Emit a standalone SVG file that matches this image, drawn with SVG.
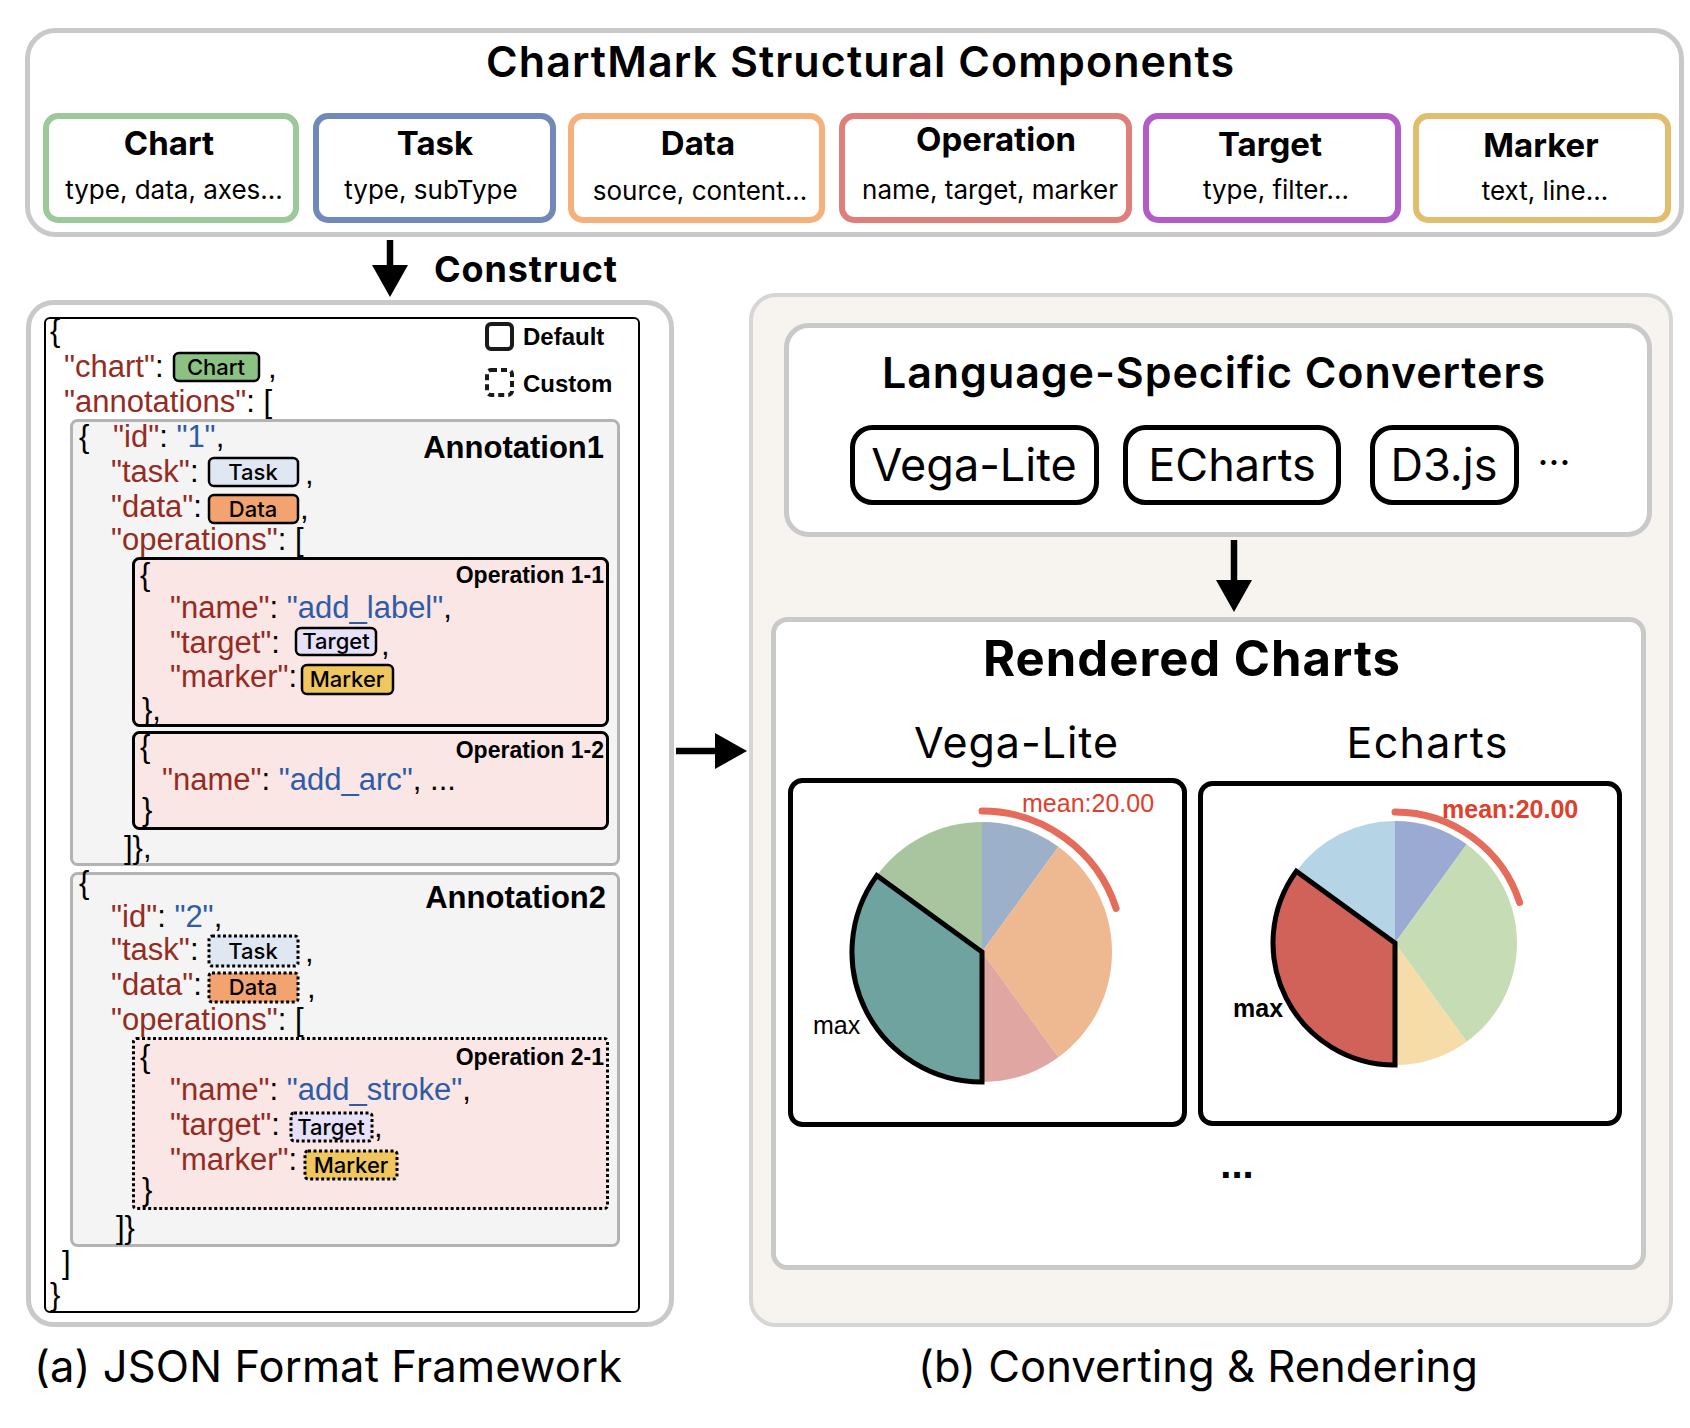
<svg xmlns="http://www.w3.org/2000/svg" width="1690" height="1428" viewBox="0 0 1690 1428">
<defs>
<style>
.cont{fill:#fff;stroke:#c9c9c9;stroke-width:5}
.comp{fill:#fff;stroke-width:6}
.ct{font-family:Inter,"Liberation Sans",sans-serif;font-weight:700;font-size:33px;text-anchor:middle;fill:#000}
.cs{font-family:Inter,"Liberation Sans",sans-serif;font-weight:400;font-size:26px;text-anchor:middle;fill:#000}
.j{font-family:"Liberation Sans",Arial,sans-serif;font-size:31px;fill:#000}
.k{fill:#952b22}
.v{fill:#2e5ca6}
.bd{stroke:#000;stroke-width:2.5}
.dot{stroke:#000;stroke-width:3;stroke-dasharray:3 2.5}
.bt{font-family:Inter,"Liberation Sans",sans-serif;font-weight:500;font-size:22px;text-anchor:middle;fill:#000}
.hb{font-family:"Liberation Sans",Arial,sans-serif;font-weight:700;fill:#000}
.op{fill:#fbe6e6;stroke:#000;stroke-width:3}
.ann{fill:#f4f4f4;stroke:#b3b3b3;stroke-width:3}
.btn{fill:#fff;stroke:#000;stroke-width:5}
.bl{font-family:Inter,"Liberation Sans",sans-serif;font-size:45px;text-anchor:middle;fill:#000}
.frame{fill:#fff;stroke:#000;stroke-width:5}
.cap{font-family:Inter,"Liberation Sans",sans-serif;font-size:43.5px;fill:#000}
.mean{font-family:"Liberation Sans",Arial,sans-serif;font-size:25px;fill:#e0402c}
.arr{stroke:#000;stroke-width:6.5;fill:none}
.sub{font-family:Inter,"Liberation Sans",sans-serif;font-size:43px;text-anchor:middle;fill:#000}
</style>
<marker id="ah" markerUnits="userSpaceOnUse" markerWidth="34" markerHeight="36" refX="0" refY="18" orient="auto">
<path d="M0,0 L32,18 L0,36 z" fill="#000"/>
</marker>
</defs>
<rect width="1690" height="1428" fill="#fff"/>

<g id="structural-components">
<rect class="cont" x="27.5" y="30.5" width="1654" height="204" rx="28"/>
<text x="486" y="77" textLength="748" style="font-family:Inter,'Liberation Sans',sans-serif;font-weight:600;font-size:43px">ChartMark Structural Components</text>
</g>
<g id="comp-chart">
<rect class="comp" x="46" y="116" width="250" height="104" rx="12" stroke="#9cc89a"/>
<text class="ct" x="169" y="155">Chart</text>
<text class="cs" x="174" y="199">type, data, axes...</text>
</g>
<g id="comp-task">
<rect class="comp" x="316" y="116" width="237" height="104" rx="12" stroke="#7089b8"/>
<text class="ct" x="435" y="155">Task</text>
<text class="cs" x="431" y="199">type, subType</text>
</g>
<g id="comp-data">
<rect class="comp" x="571" y="116" width="251" height="104" rx="12" stroke="#f6b07a"/>
<text class="ct" x="698" y="155">Data</text>
<text class="cs" x="700" y="200">source, content...</text>
</g>
<g id="comp-operation">
<rect class="comp" x="842" y="116" width="287" height="104" rx="12" stroke="#df7e7b"/>
<text class="ct" x="996" y="151">Operation</text>
<text class="cs" x="990" y="199">name, target, marker</text>
</g>
<g id="comp-target">
<rect class="comp" x="1146" y="116" width="252" height="104" rx="12" stroke="#b35bc9"/>
<text class="ct" x="1270" y="156">Target</text>
<text class="cs" x="1276" y="199">type, filter...</text>
</g>
<g id="comp-marker">
<rect class="comp" x="1416" y="116" width="252" height="104" rx="12" stroke="#e0be6e"/>
<text class="ct" x="1541" y="157">Marker</text>
<text class="cs" x="1545" y="200">text, line...</text>
</g>

<g id="json-framework">
<rect class="cont" x="28.5" y="302.5" width="643" height="1022" rx="25"/>
<rect x="45" y="318" width="594" height="994" rx="5" fill="#fff" stroke="#000" stroke-width="2"/>
<rect x="487" y="324" width="25" height="25" rx="4" fill="none" stroke="#1a1a1a" stroke-width="4"/>
<text class="hb" x="523" y="345" font-size="24">Default</text>
<rect x="487" y="370" width="25" height="25" rx="4" fill="none" stroke="#1a1a1a" stroke-width="4" stroke-dasharray="6 4"/>
<text class="hb" x="523" y="392" font-size="24">Custom</text>

<text class="j" x="50" y="341">{</text>
<text class="j" x="64" y="377"><tspan class="k">"chart"</tspan>:</text>
<rect class="bd" x="174" y="353" width="85" height="28" rx="5" fill="#8cc184"/>
<text class="bt" x="216" y="375">Chart</text>
<text class="j" x="268" y="378">,</text>
<text class="j" x="64" y="412"><tspan class="k">"annotations"</tspan>: [</text>
</g>

<g id="annotation1">
<rect class="ann" x="71.5" y="420.5" width="547" height="444" rx="6"/>
<text class="j" x="79" y="447">{</text>
<text class="j" x="113" y="447"><tspan class="k">"id"</tspan>: <tspan class="v">"1"</tspan>,</text>
<text class="hb" x="604" y="458" font-size="31" text-anchor="end">Annotation1</text>
<text class="j" x="111" y="482"><tspan class="k">"task"</tspan>:</text>
<rect class="bd" x="209" y="458" width="89" height="28" rx="5" fill="#dfe7f2"/>
<text class="bt" x="253" y="480">Task</text>
<text class="j" x="305" y="484">,</text>
<text class="j" x="111" y="517"><tspan class="k">"data"</tspan>:</text>
<rect class="bd" x="209" y="495" width="89" height="28" rx="5" fill="#f2a36f"/>
<text class="bt" x="253" y="517">Data</text>
<text class="j" x="300" y="519">,</text>
<text class="j" x="111" y="550"><tspan class="k">"operations"</tspan>: [</text>
<text class="j" x="124" y="858">]},</text>
</g>

<g id="operation-1-1">
<rect class="op" x="133.5" y="558.5" width="474" height="167" rx="6"/>
<text class="j" x="140" y="585">{</text>
<text class="hb" x="604" y="583" font-size="23" text-anchor="end">Operation 1-1</text>
<text class="j" x="170" y="618"><tspan class="k">"name"</tspan>: <tspan class="v">"add_label"</tspan>,</text>
<text class="j" x="170" y="653"><tspan class="k">"target"</tspan>:</text>
<rect class="bd" x="296" y="628" width="80" height="27" rx="5" fill="#e6e0f8"/>
<text class="bt" x="336" y="649">Target</text>
<text class="j" x="381" y="655">,</text>
<text class="j" x="170" y="687"><tspan class="k">"marker"</tspan>:</text>
<rect class="bd" x="302" y="665" width="91" height="29" rx="5" fill="#f0c75e"/>
<text class="bt" x="347" y="687">Marker</text>
<text class="j" x="142" y="720">},</text>
</g>

<g id="operation-1-2">
<rect class="op" x="133.5" y="732.5" width="474" height="96" rx="6"/>
<text class="j" x="140" y="757">{</text>
<text class="hb" x="604" y="758" font-size="23" text-anchor="end">Operation 1-2</text>
<text class="j" x="162" y="790"><tspan class="k">"name"</tspan>: <tspan class="v">"add_arc"</tspan>, ...</text>
<text class="j" x="142" y="820">}</text>
</g>

<g id="annotation2">
<rect class="ann" x="71.5" y="873.5" width="547" height="372" rx="6"/>
<text class="j" x="79" y="893">{</text>
<text class="hb" x="606" y="908" font-size="31" text-anchor="end">Annotation2</text>
<text class="j" x="111" y="927"><tspan class="k">"id"</tspan>: <tspan class="v">"2"</tspan>,</text>
<text class="j" x="111" y="960"><tspan class="k">"task"</tspan>:</text>
<rect class="dot" x="209" y="936" width="89" height="30" rx="3" fill="#dfe7f2"/>
<text class="bt" x="253" y="959">Task</text>
<text class="j" x="305" y="962">,</text>
<text class="j" x="111" y="995"><tspan class="k">"data"</tspan>:</text>
<rect class="dot" x="209" y="973" width="89" height="29" rx="3" fill="#f2a36f"/>
<text class="bt" x="253" y="995">Data</text>
<text class="j" x="307" y="998">,</text>
<text class="j" x="111" y="1030"><tspan class="k">"operations"</tspan>: [</text>
<text class="j" x="116" y="1238">]}</text>
</g>

<g id="operation-2-1">
<rect class="op dot" x="133.5" y="1038.5" width="474" height="170" rx="3"/>
<text class="j" x="140" y="1067">{</text>
<text class="hb" x="604" y="1065" font-size="23" text-anchor="end">Operation 2-1</text>
<text class="j" x="170" y="1100"><tspan class="k">"name"</tspan>: <tspan class="v">"add_stroke"</tspan>,</text>
<text class="j" x="170" y="1135"><tspan class="k">"target"</tspan>:</text>
<rect class="dot" x="291" y="1113" width="81" height="28" rx="3" fill="#e6e0f8"/>
<text class="bt" x="331" y="1135">Target</text>
<text class="j" x="374" y="1137">,</text>
<text class="j" x="170" y="1170"><tspan class="k">"marker"</tspan>:</text>
<rect class="dot" x="305" y="1151" width="92" height="28" rx="3" fill="#f0c75e"/>
<text class="bt" x="351" y="1173">Marker</text>
<text class="j" x="142" y="1200">}</text>
</g>

<g id="json-close">
<text class="j" x="62" y="1273">]</text>
<text class="j" x="50" y="1305">}</text>
</g>

<g id="converting-rendering">
<rect x="751" y="295" width="920" height="1030" rx="25" fill="#f7f4ef" stroke="#d6d6d6" stroke-width="4"/>
</g>

<g id="converters">
<rect class="cont" x="786.5" y="325.5" width="863" height="209" rx="22"/>
<text x="882" y="388" textLength="663" style="font-family:Inter,'Liberation Sans',sans-serif;font-weight:600;font-size:43px">Language-Specific Converters</text>
</g>
<g id="conv-vegalite">
<rect class="btn" x="852.5" y="427.5" width="244" height="75" rx="20"/>
<text class="bl" x="974" y="481">Vega-Lite</text>
</g>
<g id="conv-echarts">
<rect class="btn" x="1125.5" y="427.5" width="213" height="75" rx="20"/>
<text class="bl" x="1232" y="481">ECharts</text>
</g>
<g id="conv-d3">
<rect class="btn" x="1372.5" y="427.5" width="144" height="75" rx="20"/>
<text class="bl" x="1444" y="481">D3.js</text>
</g>
<text x="1554" y="476" style="font-family:Inter,'Liberation Sans',sans-serif;font-size:38px;text-anchor:middle">···</text>

<g id="rendered-charts">
<rect class="cont" x="773.5" y="619.5" width="870" height="648" rx="14"/>
<text x="983" y="676" textLength="417" style="font-family:Inter,'Liberation Sans',sans-serif;font-weight:700;font-size:49px">Rendered Charts</text>
<text class="sub" x="1016" y="758" textLength="204">Vega-Lite</text>
<text class="sub" x="1427" y="758" textLength="161">Echarts</text>
<text x="1237" y="1178" style="font-family:'Liberation Sans',Arial,sans-serif;font-weight:700;font-size:40px;text-anchor:middle">...</text>
</g>

<g id="chart-vegalite">
<rect class="frame" x="790.5" y="780.5" width="394" height="344" rx="12"/>
<path d="M982,952 L982,822 A130,130 0 0 1 1058.4,846.8 Z" fill="#9cb0c9"/>
<path d="M982,952 L1058.4,846.8 A130,130 0 0 1 1058.4,1057.2 Z" fill="#eeb990"/>
<path d="M982,952 L1058.4,1057.2 A130,130 0 0 1 982,1082 Z" fill="#e0a6a2"/>
<path d="M982,952 L876.8,875.6 A130,130 0 0 1 982,822 Z" fill="#a9c59f"/>
<path d="M982,952 L982,1082 A130,130 0 0 1 876.8,875.6 Z" fill="#6fa3a0" stroke="#000" stroke-width="5"/>
<path d="M982,811 A141,141 0 0 1 1116.1,908.4" fill="none" stroke="#e56b5b" stroke-width="7" stroke-linecap="round"/>
<text class="mean" x="1022" y="812">mean:20.00</text>
<text x="813" y="1034" style="font-family:'Liberation Sans',Arial,sans-serif;font-size:25px">max</text>
</g>

<g id="chart-echarts">
<rect class="frame" x="1200.5" y="783.5" width="419" height="340" rx="12"/>
<path d="M1395,943 L1395,821 A122,122 0 0 1 1466.7,844.3 Z" fill="#9aaad3"/>
<path d="M1395,943 L1466.7,844.3 A122,122 0 0 1 1466.7,1041.7 Z" fill="#c5dcb4"/>
<path d="M1395,943 L1466.7,1041.7 A122,122 0 0 1 1395,1065 Z" fill="#f6dca9"/>
<path d="M1395,943 L1296.3,871.3 A122,122 0 0 1 1395,821 Z" fill="#b5d5e7"/>
<path d="M1395,943 L1395,1065 A122,122 0 0 1 1296.3,871.3 Z" fill="#d0625a" stroke="#000" stroke-width="5"/>
<path d="M1395,812 A131,131 0 0 1 1519.6,902.5" fill="none" stroke="#e56b5b" stroke-width="7" stroke-linecap="round"/>
<text class="mean" x="1442" y="818" font-weight="700">mean:20.00</text>
<text x="1233" y="1017" style="font-family:'Liberation Sans',Arial,sans-serif;font-weight:700;font-size:25px">max</text>
</g>

<g id="connectors">
<line class="arr" x1="390" y1="240" x2="390" y2="265" marker-end="url(#ah)"/>
<line class="arr" x1="676" y1="751" x2="715" y2="751" stroke-width="7" marker-end="url(#ah)"/>
<line class="arr" x1="1234" y1="540" x2="1234" y2="580" marker-end="url(#ah)"/>
</g>
<text x="434" y="282" textLength="183" style="font-family:Inter,'Liberation Sans',sans-serif;font-weight:700;font-size:36px">Construct</text>

<text class="cap" x="34" y="1382" textLength="588">(a) JSON Format Framework</text>
<text class="cap" x="918" y="1382" textLength="560">(b) Converting &amp; Rendering</text>
</svg>
